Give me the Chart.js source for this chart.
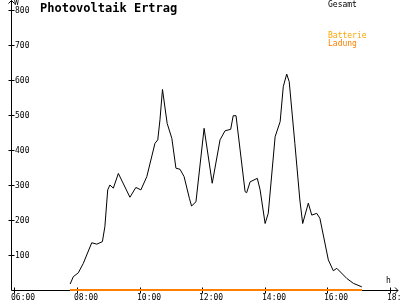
<!DOCTYPE html>
<html>
<head>
<meta charset="utf-8">
<script src="https://cdn.jsdelivr.net/npm/chart.js@4"></script>
<style>
  html, body { margin: 0; padding: 0; background: #fff; }
  canvas { display: block; }
</style>
</head>
<body>
<canvas id="pvChart" width="400" height="300"></canvas>
<script>
// Photovoltaik Ertrag - Tagesverlauf
const title = 'Photovoltaik Ertrag';
const seriesNames = ['Gesamt', 'Batterie', 'Ladung'];
const seriesColors = ['#000000', '#FFA500', '#FF8000'];

// Zeit (Stunden, dezimal) und Leistung (W)
const times = [7.78, 7.88, 8.04, 8.20, 8.47, 8.63, 8.81, 8.89, 8.98, 9.05,
  9.16, 9.32, 9.69, 9.88, 10.04, 10.23, 10.49, 10.58, 10.65, 10.73,
  10.88, 11.03, 11.16, 11.29, 11.42, 11.59, 11.66, 11.80, 12.06, 12.32,
  12.57, 12.73, 12.91, 12.99, 13.08, 13.37, 13.42, 13.53, 13.76, 13.85,
  14.01, 14.11, 14.33, 14.49, 14.59, 14.70, 14.78, 14.96, 15.12, 15.21,
  15.39, 15.50, 15.66, 15.76, 16.03, 16.19, 16.30, 16.62, 16.83, 17.10];
const gesamt = [17, 38, 49, 76, 135, 131, 138, 181, 286, 300,
  291, 333, 265, 293, 286, 324, 419, 429, 486, 573,
  476, 433, 348, 345, 324, 262, 240, 252, 462, 305,
  429, 455, 459, 498, 498, 281, 278, 309, 319, 286,
  190, 219, 438, 481, 581, 617, 595, 419, 257, 190,
  248, 214, 219, 205, 86, 55, 62, 33, 19, 9];
const batterie = times.map(() => 0);
const ladung = times.map(() => 0);

// Achsen
const xTickHours = [6, 8, 10, 12, 14, 16, 18];
const xTickLabels = ['06:00', '08:00', '10:00', '12:00', '14:00', '16:00', '18:00'];
const yTicks = [100, 200, 300, 400, 500, 600, 700, 800];
const xMin = 5.89, xMax = 18.16;
const yMin = 0, yMax = 800;

const smallFont = '8px "DejaVu Sans Mono", monospace';

const axisPlugin = {
  id: 'pvAxes',
  beforeDatasetsDraw(chart) {
    const { ctx, chartArea, scales } = chart;
    const x0 = Math.round(chartArea.left) + 0.5;
    const y0 = Math.round(scales.y.getPixelForValue(0)) + 0.5;
    ctx.save();
    ctx.strokeStyle = '#000';
    ctx.lineWidth = 1;
    ctx.beginPath();
    // y-Achse mit Pfeil
    ctx.moveTo(x0, y0);
    ctx.lineTo(x0, 0.5);
    ctx.moveTo(x0 - 3, 3.5);
    ctx.lineTo(x0, 0.5);
    ctx.lineTo(x0 + 3, 3.5);
    // x-Achse mit Pfeil
    const xe = chartArea.right + 3;
    ctx.moveTo(x0, y0);
    ctx.lineTo(xe, y0);
    ctx.moveTo(xe - 3, y0 - 3);
    ctx.lineTo(xe, y0);
    ctx.lineTo(xe - 3, y0 + 3);
    // Ticks
    yTicks.forEach(v => {
      const py = Math.round(scales.y.getPixelForValue(v)) + 0.5;
      ctx.moveTo(x0 - 3, py);
      ctx.lineTo(x0 + 3, py);
    });
    xTickHours.forEach(h => {
      const px = Math.round(scales.x.getPixelForValue(h)) + 0.5;
      ctx.moveTo(px, y0 - 3);
      ctx.lineTo(px, y0 + 3);
    });
    ctx.stroke();
    ctx.restore();
  },
  afterDraw(chart) {
    const { ctx, chartArea, scales } = chart;
    const x0 = Math.round(chartArea.left);
    const y0 = Math.round(scales.y.getPixelForValue(0));
    ctx.save();
    ctx.fillStyle = '#000';
    ctx.font = smallFont;
    ctx.textAlign = 'left';
    ctx.textBaseline = 'middle';
    yTicks.forEach(v => {
      ctx.fillText(String(v), x0 + 4, Math.round(scales.y.getPixelForValue(v)) + 1);
    });
    ctx.textBaseline = 'top';
    xTickHours.forEach((h, i) => {
      ctx.fillText(xTickLabels[i], Math.round(scales.x.getPixelForValue(h)) - 3, y0 + 4);
    });
    // Einheiten
    ctx.fillText('W', x0 + 3, -1);
    ctx.textBaseline = 'alphabetic';
    ctx.fillText('h', chartArea.right - 9, y0 - 7);

    // Titel
    ctx.font = 'bold 12px "DejaVu Sans Mono", monospace';
    ctx.fillText(title, 40, 12);

    // Legende
    ctx.font = smallFont;
    ctx.textBaseline = 'top';
    ctx.fillStyle = seriesColors[0];
    ctx.fillText(seriesNames[0], 328, 1);
    ctx.fillStyle = seriesColors[1];
    ctx.fillText(seriesNames[1], 328, 32);
    ctx.fillStyle = seriesColors[2];
    ctx.fillText(seriesNames[2], 328, 40);
    ctx.restore();
  }
};

const toPoints = (vals) => vals.map((v, i) => ({ x: times[i], y: v }));

new Chart(document.getElementById('pvChart'), {
  type: 'line',
  data: {
    datasets: [{
      label: seriesNames[1],
      data: toPoints(batterie),
      borderColor: seriesColors[1],
      borderWidth: 2,
      pointRadius: 0,
      tension: 0,
      clip: false,
      order: 3
    }, {
      label: seriesNames[2],
      data: toPoints(ladung),
      borderColor: seriesColors[2],
      borderWidth: 2,
      pointRadius: 0,
      tension: 0,
      clip: false,
      order: 2
    }, {
      label: seriesNames[0],
      data: toPoints(gesamt),
      borderColor: seriesColors[0],
      borderWidth: 1,
      pointRadius: 0,
      tension: 0,
      order: 1
    }]
  },
  options: {
    responsive: false,
    animation: false,
    events: [],
    layout: {
      padding: { left: 11, right: 5, top: 10, bottom: 10 }
    },
    scales: {
      x: { type: 'linear', min: xMin, max: xMax, display: false },
      y: { type: 'linear', min: yMin, max: yMax, display: false }
    },
    plugins: {
      legend: { display: false },
      tooltip: { enabled: false },
      title: { display: false }
    }
  },
  plugins: [axisPlugin]
});
</script>
</body>
</html>
